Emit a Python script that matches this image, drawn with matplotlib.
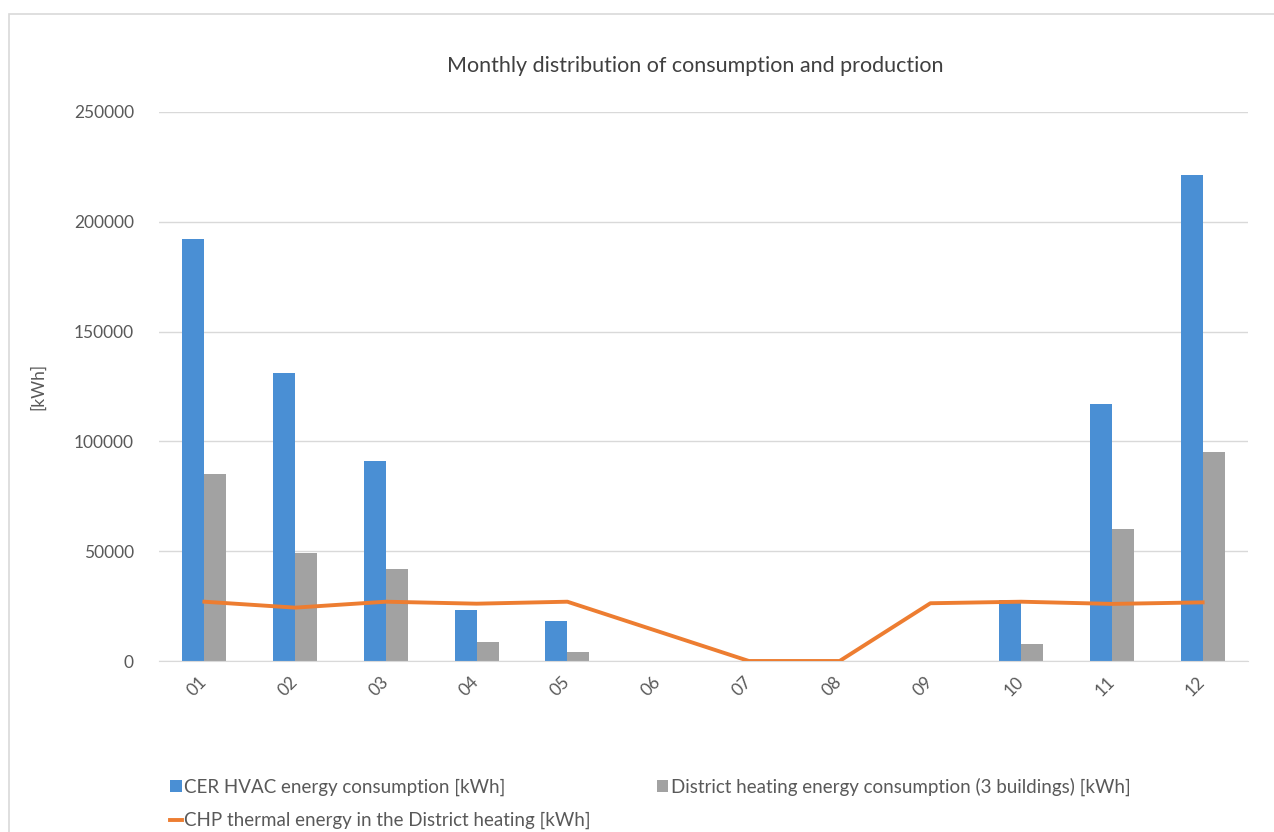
import numpy as np
import matplotlib.pyplot as plt
from matplotlib.patches import Rectangle

plt.rcParams['font.family'] = ['Lato', 'DejaVu Sans']

months = ['01', '02', '03', '04', '05', '06', '07', '08', '09', '10', '11', '12']
hvac = [192000, 131000, 91000, 23000, 18000, 0, 0, 0, 0, 28000, 117000, 221500]
district = [85000, 49000, 42000, 8500, 4000, 0, 0, 0, 0, 7700, 60000, 95000]
chp = [27000, 24300, 27000, 26100, 27000, 13500, 0, 0, 26300, 27000, 26000, 26700]

text_col = '#595959'
grid_col = '#d9d9d9'

fig = plt.figure(figsize=(12.74, 8.32), dpi=100)
ax = fig.add_axes([159 / 1274, 1 - 661 / 832, (1248 - 159) / 1274, (661 - 112) / 832])

# chart frame like the spreadsheet export
fig.patches.append(Rectangle((9 / 1274, -0.1), 1.2, 1 - 14 / 832 + 0.1,
                             transform=fig.transFigure, fill=False,
                             edgecolor=grid_col, linewidth=1.2))

x = np.arange(len(months))
w = 0.242
b1 = ax.bar(x - w / 2, hvac, w, color='#4a8fd4', label='CER HVAC energy consumption [kWh]', zorder=2)
b2 = ax.bar(x + w / 2, district, w, color='#a2a2a2',
            label='District heating energy consumption (3 buildings) [kWh]', zorder=2)
l1, = ax.plot(x, chp, color='#ed7d31', linewidth=2.8,
              label='CHP thermal energy in the District heating [kWh]', zorder=3)

ax.set_xlim(-0.5, len(months) - 0.5)
ax.set_ylim(0, 250000)
ax.set_yticks(np.arange(0, 250001, 50000))
ax.yaxis.grid(True, color=grid_col, linewidth=1)
ax.set_axisbelow(True)
for s in ['top', 'right', 'left']:
    ax.spines[s].set_visible(False)
ax.spines['bottom'].set_color(grid_col)
ax.tick_params(axis='both', length=0, colors=text_col, labelsize=12.5)
ax.tick_params(axis='y', pad=18)
ax.set_xticks(x)
ax.set_xticklabels(months, rotation=45, ha='right', va='center', rotation_mode='anchor')
ax.tick_params(axis='x', pad=13)

ax.set_ylabel('[kWh]', color=text_col, fontsize=12.5, labelpad=20)
ax.set_title('Monthly distribution of consumption and production', color='#404040',
             fontsize=15.5, pad=29, x=0.492)

leg = fig.legend([b1, l1, b2], [b1.get_label(), l1.get_label(), b2.get_label()],
                 ncol=2, loc='upper left', bbox_to_anchor=(161 / 1274, 1 - 768 / 832),
                 frameon=False, fontsize=13.5, handlelength=0.6, handleheight=0.6,
                 handletextpad=0.15, columnspacing=3.5, labelspacing=0.87, borderpad=0)
for t in leg.get_texts():
    t.set_color(text_col)

fig.savefig('out.png', dpi=100)
